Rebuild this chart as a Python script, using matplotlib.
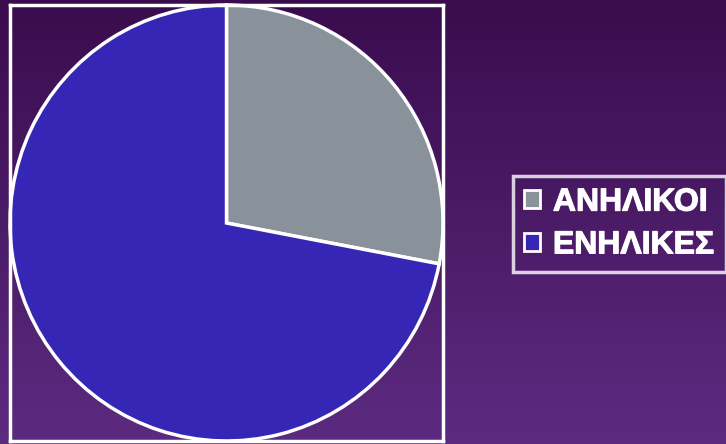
import matplotlib.pyplot as plt
import numpy as np
from matplotlib.colors import LinearSegmentedColormap
from matplotlib.patches import Patch
from matplotlib import patheffects

labels = ["ΑΝΗΛΙΚΟΙ", "ΕΝΗΛΙΚΕΣ"]
shares = [28, 72]
colors = ["#89919b", "#3526b6"]

plt.rcParams["font.family"] = ["Liberation Sans", "DejaVu Sans"]

fig = plt.figure(figsize=(7.26, 4.44), dpi=100)

# vertical purple gradient behind everything
bg = fig.add_axes([0, 0, 1, 1], zorder=-10)
cmap = LinearSegmentedColormap.from_list("bg", ["#3a0c4d", "#5c2b81"])
bg.imshow(np.linspace(0, 1, 256).reshape(-1, 1), aspect="auto", cmap=cmap,
          extent=[0, 1, 0, 1], origin="upper")
bg.set_axis_off()

W, H = 726, 444
ax = fig.add_axes([10 / W, 3 / H, 433 / W, 436 / H])
ax.patch.set_alpha(0)
wedges, _ = ax.pie(
    shares,
    colors=colors,
    startangle=90,
    counterclock=False,
    radius=1.0,
    frame=True,
    wedgeprops={"edgecolor": "white", "linewidth": 2.5},
)
ax.set_xlim(-1.0, 1.0)
ax.set_ylim(-1.0, 1.0)
ax.set_aspect("auto")
ax.set_xticks([])
ax.set_yticks([])
for spine in ax.spines.values():
    spine.set_visible(True)
    spine.set_edgecolor("white")
    spine.set_linewidth(2.5)

handles = [Patch(facecolor=c, edgecolor="white", linewidth=2) for c in colors]
leg = fig.legend(
    handles,
    labels,
    loc="center left",
    bbox_to_anchor=(513 / W, 1 - 224 / H),
    prop={"family": ["Liberation Sans", "DejaVu Sans"], "weight": "bold", "size": 23},
    handlelength=0.5,
    handleheight=0.5,
    handletextpad=0.4,
    labelspacing=0.4,
    borderpad=0.35,
    borderaxespad=0,
    frameon=True,
    fancybox=False,
)
leg.get_frame().set_facecolor("none")
leg.get_frame().set_edgecolor("white")
leg.get_frame().set_linewidth(2.5)
for text in leg.get_texts():
    text.set_color("white")
    text.set_path_effects([patheffects.withStroke(linewidth=0.8, foreground="white")])

fig.savefig("out.png", dpi=100)
